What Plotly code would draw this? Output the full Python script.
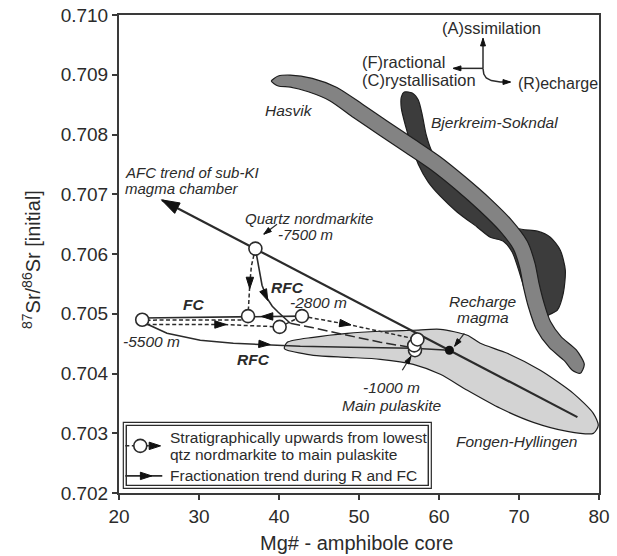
import plotly.graph_objects as go

# ---------------- axis ticks ----------------
x_ticks = [20, 30, 40, 50, 60, 70, 80]
y_ticks = [0.702, 0.703, 0.704, 0.705, 0.706, 0.707, 0.708, 0.709, 0.710]

# ---------------- intrusion fields (Mg#, 87Sr/86Sr outlines) ----------------
hasvik_mg = [39.04, 39.91, 41.41, 44.16, 47.24, 50.48, 53.60, 56.98, 60.14, 63.30,
             66.48, 69.04, 71.04, 72.00, 72.51, 73.13, 73.93, 75.28, 77.16, 78.16,
             77.66, 76.66, 75.66, 73.80, 72.15, 71.20, 70.56, 70.08, 69.29, 67.54,
             65.10, 62.03, 58.94, 55.85, 52.48, 49.35, 46.34, 43.66, 41.41, 39.91, 39.04]
hasvik_sr = [0.708894, 0.708978, 0.708995, 0.708940, 0.708787, 0.708503, 0.708218,
             0.707916, 0.707628, 0.707288, 0.706915, 0.706571, 0.706213, 0.705848,
             0.705508, 0.705181, 0.704869, 0.704613, 0.704394, 0.704154, 0.704004,
             0.704054, 0.704216, 0.704432, 0.704746, 0.705104, 0.705447, 0.705777,
             0.706082, 0.706394, 0.706720, 0.707084, 0.707414, 0.707695, 0.707997,
             0.708281, 0.708566, 0.708715, 0.708794, 0.708811, 0.708894]

bjerkreim_mg = [55.66, 56.66, 57.41, 57.91, 58.41, 59.16, 61.41, 64.54, 67.66, 69.79,
                72.29, 73.91, 75.16, 75.79, 75.54, 74.79, 73.91, 72.66, 71.16, 70.16,
                69.16, 68.04, 66.41, 64.79, 62.29, 60.16, 58.66, 57.41, 56.54, 55.79,
                55.29, 55.29, 55.66]
bjerkreim_sr = [0.708710, 0.708694, 0.708576, 0.708325, 0.707990, 0.707705, 0.707320,
                0.706985, 0.706684, 0.706432, 0.706382, 0.706281, 0.706064, 0.705729,
                0.705344, 0.705059, 0.704992, 0.704925, 0.705226, 0.705645, 0.706030,
                0.706215, 0.706281, 0.706449, 0.706700, 0.706968, 0.707203, 0.707504,
                0.707823, 0.708158, 0.708442, 0.708627, 0.708710]

fongen_mg = [40.66, 41.04, 44.29, 48.54, 52.66, 56.79, 60.16, 63.54, 65.16, 68.54,
             72.66, 76.79, 79.29, 79.91, 79.29, 76.04, 71.79, 67.66, 63.54, 60.16,
             56.79, 52.66, 48.54, 44.29, 41.04, 40.66]
fongen_sr = [0.704422, 0.704523, 0.704606, 0.704673, 0.704707, 0.704724, 0.704740,
             0.704640, 0.704506, 0.704338, 0.704054, 0.703668, 0.703333, 0.703132,
             0.702998, 0.703032, 0.703183, 0.703417, 0.703719, 0.703987, 0.704154,
             0.704238, 0.704271, 0.704305, 0.704389, 0.704422]

# ---------------- AFC trend of the sub-KI magma chamber ----------------
afc_mg = [77.3, 25.4]
afc_sr = [0.70327, 0.70690]

# ---------------- samples (open circles) ----------------
sample_mg = [37.05, 22.9, 36.13, 40.08, 42.87, 57.0, 56.9, 57.3]
sample_sr = [0.70609, 0.70490, 0.70496, 0.70478, 0.70496, 0.70439, 0.70447, 0.70457]

recharge_mg = [61.3]
recharge_sr = [0.70439]

# ---------------- stratigraphic (dashed) segments ----------------
strat_a_mg = [37.05, 36.55, 36.35, 36.25, 36.13]
strat_a_sr = [0.70609, 0.70580, 0.70550, 0.70520, 0.70496]
strat_b_mg = [36.13, 22.9]
strat_b_sr = [0.704895, 0.704893]
strat_c_mg = [23.4, 33.0, 40.08]
strat_c_sr = [0.70482, 0.70482, 0.70478]
strat_d_mg = [40.08, 42.87]
strat_d_sr = [0.70478, 0.70496]
strat_e_mg = [42.87, 48.66, 57.3]
strat_e_sr = [0.70496, 0.70482, 0.70457]

# ---------------- fractionation trends (solid) ----------------
fc_mg = [42.87, 22.9]
fc_sr = [0.70496, 0.70493]
rfc_up_mg = [37.05, 37.25, 37.54, 37.88, 38.5, 39.16, 39.91, 40.66, 41.41]
rfc_up_sr = [0.70609, 0.70593, 0.705695, 0.705477, 0.70526, 0.705126, 0.705025,
             0.704925, 0.704841]
rfc_low_mg = [22.9, 23.29, 26.0, 30.16, 34.29, 38.54, 42.66, 48.91, 56.79, 61.3]
rfc_low_sr = [0.70490, 0.704841, 0.704673, 0.704556, 0.704506, 0.704481, 0.704456,
              0.704439, 0.704422, 0.70439]
# long-dashed link towards the main pulaskite
link_mg = [41.41, 44.29, 48.54, 52.66, 56.41, 56.9]
link_sr = [0.704841, 0.704765, 0.704640, 0.704523, 0.704439, 0.70445]

INK = "#2b2b2b"
HEAD = "#111111"
FONT = "Liberation Sans, Arial, sans-serif"
SHORT_DASH = "4px,2.5px"

fig = go.Figure()


def line(xs, ys, dash="solid", width=1.6, color=INK):
    fig.add_trace(go.Scatter(x=xs, y=ys, mode="lines", hoverinfo="skip",
                             line=dict(color=color, width=width, dash=dash),
                             showlegend=False))


def field(xs, ys, fill):
    fig.add_trace(go.Scatter(x=xs, y=ys, mode="lines", fill="toself",
                             fillcolor=fill, hoverinfo="skip",
                             line=dict(color="#1e1e1e", width=1.2, shape="spline",
                                       smoothing=0.7),
                             showlegend=False))


def head(x0, y0, x1, y1, size=12):
    """Arrowhead with its tip at (x1, y1), pointing away from (x0, y0)."""
    fig.add_trace(go.Scatter(x=[x0, x1], y=[y0, y1], mode="markers", hoverinfo="skip",
                             marker=dict(symbol="arrow", size=[0, size],
                                         angleref="previous", color=HEAD, opacity=1,
                                         line=dict(width=1, color=HEAD)),
                             showlegend=False))


def circles(xs, ys):
    fig.add_trace(go.Scatter(x=xs, y=ys, mode="markers", hoverinfo="skip",
                             marker=dict(size=13, color="white",
                                         line=dict(color=INK, width=1.6)),
                             showlegend=False))


# fields
field(bjerkreim_mg, bjerkreim_sr, "#3c3c3c")
field(hasvik_mg, hasvik_sr, "#838383")
field(fongen_mg, fongen_sr, "#d3d3d3")

# trends
line(afc_mg, afc_sr, width=2.2)
line(rfc_low_mg, rfc_low_sr, width=1.6)
line(fc_mg, fc_sr, width=1.6)
line(rfc_up_mg, rfc_up_sr, width=1.6)
line(link_mg, link_sr, dash="10px,4px", width=1.5)
for xs, ys in [(strat_a_mg, strat_a_sr), (strat_b_mg, strat_b_sr),
               (strat_c_mg, strat_c_sr), (strat_d_mg, strat_d_sr),
               (strat_e_mg, strat_e_sr)]:
    line(xs, ys, dash=SHORT_DASH, width=1.5)

# arrowheads along the trends
head(26.2, 0.706844, 25.3, 0.706907, size=19)
head(36.36, 0.70560, 36.34, 0.70542)
head(38.9, 0.704955, 37.8, 0.704955)
head(38.0, 0.70540, 38.6, 0.70522)
head(32.2, 0.70482, 33.4, 0.70482)
head(47.8, 0.704840, 49.0, 0.704815)
head(37.6, 0.704495, 38.9, 0.704484)

# samples and recharge magma
circles(sample_mg, sample_sr)
fig.add_trace(go.Scatter(x=recharge_mg, y=recharge_sr, mode="markers", hoverinfo="skip",
                         marker=dict(size=9, color="#111111"), showlegend=False))

# pointer arrows
line([39.75, 38.1], [0.706499, 0.706332], width=1.2)
head(39.75, 0.706499, 38.1, 0.706332, size=8)
line([63.16, 61.95], [0.704673, 0.704456], width=1.2)
head(63.16, 0.704673, 61.95, 0.704456, size=8)
line([55.41, 56.5], [0.704054, 0.704288], width=1.2)
head(55.41, 0.704054, 56.5, 0.704288, size=8)

# legend box
fig.add_shape(type="rect", xref="x", yref="y", x0=20.54, x1=59.04,
              y0=0.702077, y1=0.703183, fillcolor="white",
              line=dict(color=INK, width=1.2), layer="below")
fig.add_shape(type="rect", xref="x", yref="y", x0=20.91, x1=58.66,
              y0=0.702127, y1=0.703132, line=dict(color=INK, width=1.4), layer="below")
line([20.79, 22.66, 25.0], [0.702789, 0.702789, 0.702789], dash=SHORT_DASH, width=1.5)
circles([22.66], [0.702789])
head(24.2, 0.702789, 25.2, 0.702789)
line([20.79, 25.41], [0.702286, 0.702286], width=1.6)
head(23.0, 0.702286, 24.1, 0.702286)

# mini diagram (A / FC / R directions)
line([65.5, 65.5], [0.709107, 0.709610], width=1.5)
head(65.5, 0.709107, 65.5, 0.709610, size=8)
line([65.5, 61.79], [0.709107, 0.709107], width=1.5)
head(65.5, 0.709107, 61.79, 0.709107, size=8)
line([65.5, 65.6, 65.91, 66.54, 67.66, 68.9],
     [0.709107, 0.709012, 0.708945, 0.708903, 0.708878, 0.708878], width=1.5)
head(68.0, 0.708878, 68.95, 0.708878, size=8)

annotations = []


def label(x, y, text, size=15.5, anchor="center"):
    annotations.append(dict(x=x, y=y, xref="x", yref="y", text=text, showarrow=False,
                            xanchor=anchor, yanchor="middle",
                            font=dict(family=FONT, size=size, color=INK)))


label(66.54, 0.709782, "(A)ssimilation", size=16.5)
label(50.16, 0.709213, "(F)ractional", size=16.5, anchor="left")
label(50.16, 0.708920, "(C)rystallisation", size=16.5, anchor="left")
label(69.60, 0.708853, "(R)echarge", size=16, anchor="left")
label(41.29, 0.708409, "<i>Hasvik</i>")
label(66.91, 0.708208, "<i>Bjerkreim-Sokndal</i>")
label(20.54, 0.707370, "<i>AFC trend of sub-KI</i>", size=15, anchor="left")
label(20.54, 0.707100, "<i>magma chamber</i>", size=15, anchor="left")
label(43.79, 0.706600, "<i>Quartz nordmarkite</i>", size=15)
label(43.29, 0.706330, "<i>-7500 m</i>", size=15)
label(41.04, 0.705444, "<b><i>RFC</i></b>")
label(44.91, 0.705193, "<i>-2800 m</i>")
label(29.29, 0.705159, "<b><i>FC</i></b>")
label(24.04, 0.704539, "<i>-5500 m</i>")
label(36.79, 0.704238, "<b><i>RFC</i></b>")
label(65.54, 0.705209, "<i>Recharge</i>")
label(65.54, 0.704941, "<i>magma</i>")
label(54.04, 0.703769, "<i>-1000 m</i>")
label(54.04, 0.703467, "<i>Main pulaskite</i>")
label(69.79, 0.702864, "<i>Fongen-Hyllingen</i>")
label(26.16, 0.702931, "Stratigraphically upwards from lowest", anchor="left")
label(26.16, 0.702647, "qtz nordmarkite to main pulaskite", anchor="left")
label(26.16, 0.702295, "Fractionation trend during R and FC", anchor="left")

# axis titles
annotations.append(dict(x=-0.1833, y=0.4874, xref="paper", yref="paper",
                        text="<sup>87</sup>Sr/<sup>86</sup>Sr [initial]",
                        textangle=-90, showarrow=False, xanchor="center",
                        yanchor="middle", font=dict(family=FONT, size=20, color=INK)))
annotations.append(dict(x=0.4958, y=-0.1046, xref="paper", yref="paper",
                        text="Mg# - amphibole core", showarrow=False,
                        xanchor="center", yanchor="middle",
                        font=dict(family=FONT, size=20, color=INK)))

axis_common = dict(showline=True, linecolor="#3a3a3a", linewidth=2, mirror=True,
                   ticks="outside", ticklen=5, tickwidth=1.5, tickcolor="#3a3a3a",
                   showgrid=False, zeroline=False, automargin=False,
                   tickfont=dict(family=FONT, size=19, color=INK))

fig.update_layout(
    width=617, height=556,
    margin=dict(l=119, r=18, t=15, b=63, autoexpand=False),
    paper_bgcolor="white", plot_bgcolor="white",
    xaxis=dict(range=[20, 80], tickvals=x_ticks, **axis_common),
    yaxis=dict(range=[0.702, 0.710], tickvals=y_ticks, tickformat=".3f", **axis_common),
    annotations=annotations,
    showlegend=False,
)

fig.write_html("out.html")
